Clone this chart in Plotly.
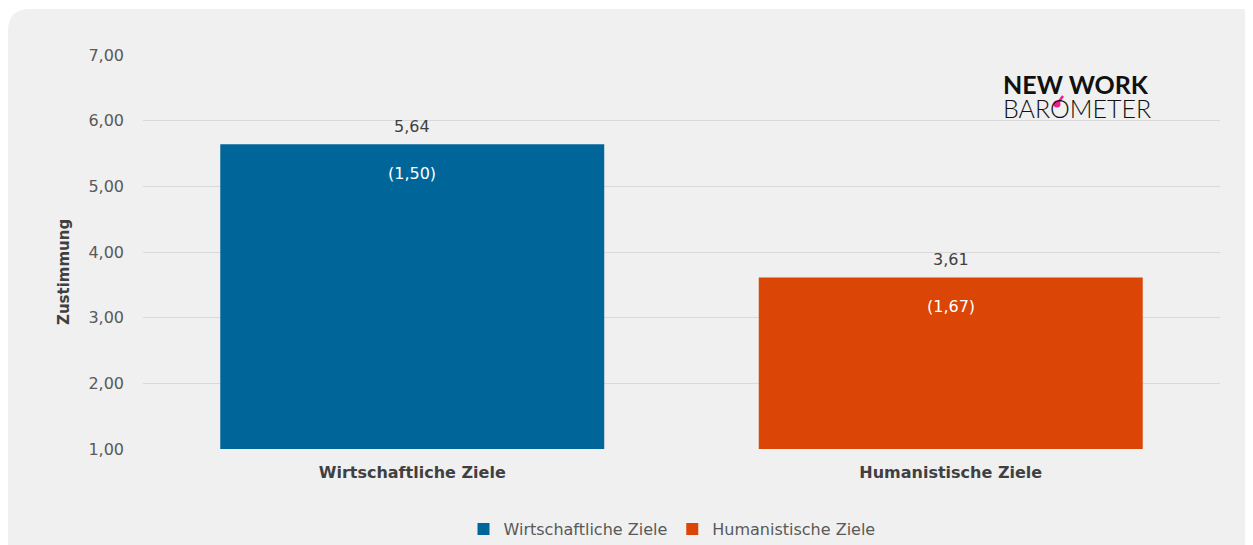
import plotly.graph_objects as go

categories = ["Wirtschaftliche Ziele", "Humanistische Ziele"]
means = [5.64, 3.61]
sds = [1.50, 1.67]
colors = ["#006699", "#DB4505"]
y_ticks = [1, 2, 3, 4, 5, 6, 7]
y_title = "Zustimmung"

# page body has an 8px margin; figure is sized to fill the rest of the window
OFF = 8
W, H = 1253 - OFF, 545 - OFF
L, R, T, B = 143 - OFF, 33, 55 - OFF, 96
PW, PH = W - L - R, H - T - B


def px(x):  # x in window pixels
    return (x - OFF - L) / PW


def py(y):  # y in window pixels
    return (H - B - (y - OFF)) / PH


def de(v):
    return f"{v:.2f}".replace(".", ",")


fig = go.Figure()
for cat, m, c in zip(categories, means, colors):
    fig.add_trace(go.Bar(x=[cat], y=[m - 1], base=1, name=cat, marker_color=c,
                         marker_line_width=0, width=0.713, hoverinfo="skip"))

FONT = "DejaVu Sans"
annotations = []
for cat, m, s in zip(categories, means, sds):
    annotations.append(dict(x=cat, y=m, xref="x", yref="y", text=de(m), showarrow=False,
                            yshift=18, font=dict(family=FONT, size=16, color="#404040")))
    annotations.append(dict(x=cat, y=m, xref="x", yref="y", text=f"({de(s)})", showarrow=False,
                            yshift=-29, font=dict(family=FONT, size=16, color="#ffffff")))

annotations.append(dict(x=px(64), y=py(272), xref="paper", yref="paper", text=f"<b>{y_title}</b>",
                        textangle=-90, showarrow=False, xanchor="center", yanchor="middle",
                        font=dict(family=FONT, size=15, color="#404040")))
# Logo
annotations.append(dict(x=px(1001), y=py(84), xref="paper", yref="paper", text="<b>NEW WORK</b>",
                        showarrow=False, xanchor="left", yanchor="middle",
                        font=dict(family="Lato", size=25, color="#111111", weight=900)))
annotations.append(dict(x=px(1001), y=py(107.5), xref="paper", yref="paper", text="BAROMETER",
                        showarrow=False, xanchor="left", yanchor="middle",
                        font=dict(family="Lato", size=25, color="#111111", weight=300)))

# rounded background
x0, y0, x1, y1, r = 8, 9, 1290, 580, 22
path = (f"M {px(x0)},{py(y0 + r)} Q {px(x0)},{py(y0)} {px(x0 + r)},{py(y0)} "
        f"L {px(x1)},{py(y0)} L {px(x1)},{py(y1)} L {px(x0)},{py(y1)} Z")
shapes = [dict(type="path", path=path, xref="paper", yref="paper", fillcolor="#f0f0f0",
               line=dict(width=0), layer="below"),
          dict(type="line", xref="paper", yref="paper", x0=px(1057), y0=py(104), x1=px(1063), y1=py(96),
               line=dict(color="#ee1f8c", width=2.5)),
          dict(type="circle", xref="paper", yref="paper", x0=px(1053.5), y0=py(100.5), x1=px(1060.5),
               y1=py(107.5), fillcolor="#ee1f8c", line=dict(width=0))]

fig.update_layout(
    width=W, height=H,
    margin=dict(l=L, r=R, t=T, b=B, autoexpand=False),
    paper_bgcolor="#ffffff", plot_bgcolor="rgba(0,0,0,0)",
    barmode="overlay",
    separators=",.",
    font=dict(family=FONT, size=16, color="#595959"),
    showlegend=True,
    legend=dict(orientation="h", x=px(672), xanchor="center", y=py(529), yanchor="middle",
                font=dict(family=FONT, size=16, color="#595959"), bgcolor="rgba(0,0,0,0)",
                itemclick=False, itemdoubleclick=False),
    annotations=annotations, shapes=shapes,
    xaxis=dict(showgrid=False, zeroline=False, showline=False, ticks="",
               tickfont=dict(family=FONT, size=16, color="#404040", weight="bold"),
               ticklabelstandoff=12),
    yaxis=dict(range=[1, 7], tickvals=y_ticks, ticktext=[de(v) for v in y_ticks],
               showgrid=True, gridcolor="#d9d9d9", gridwidth=1, zeroline=False,
               showline=False, ticks="", tickfont=dict(family=FONT, size=16, color="#595959"),
               ticklabelstandoff=18),
)

fig.write_html("out.html")
